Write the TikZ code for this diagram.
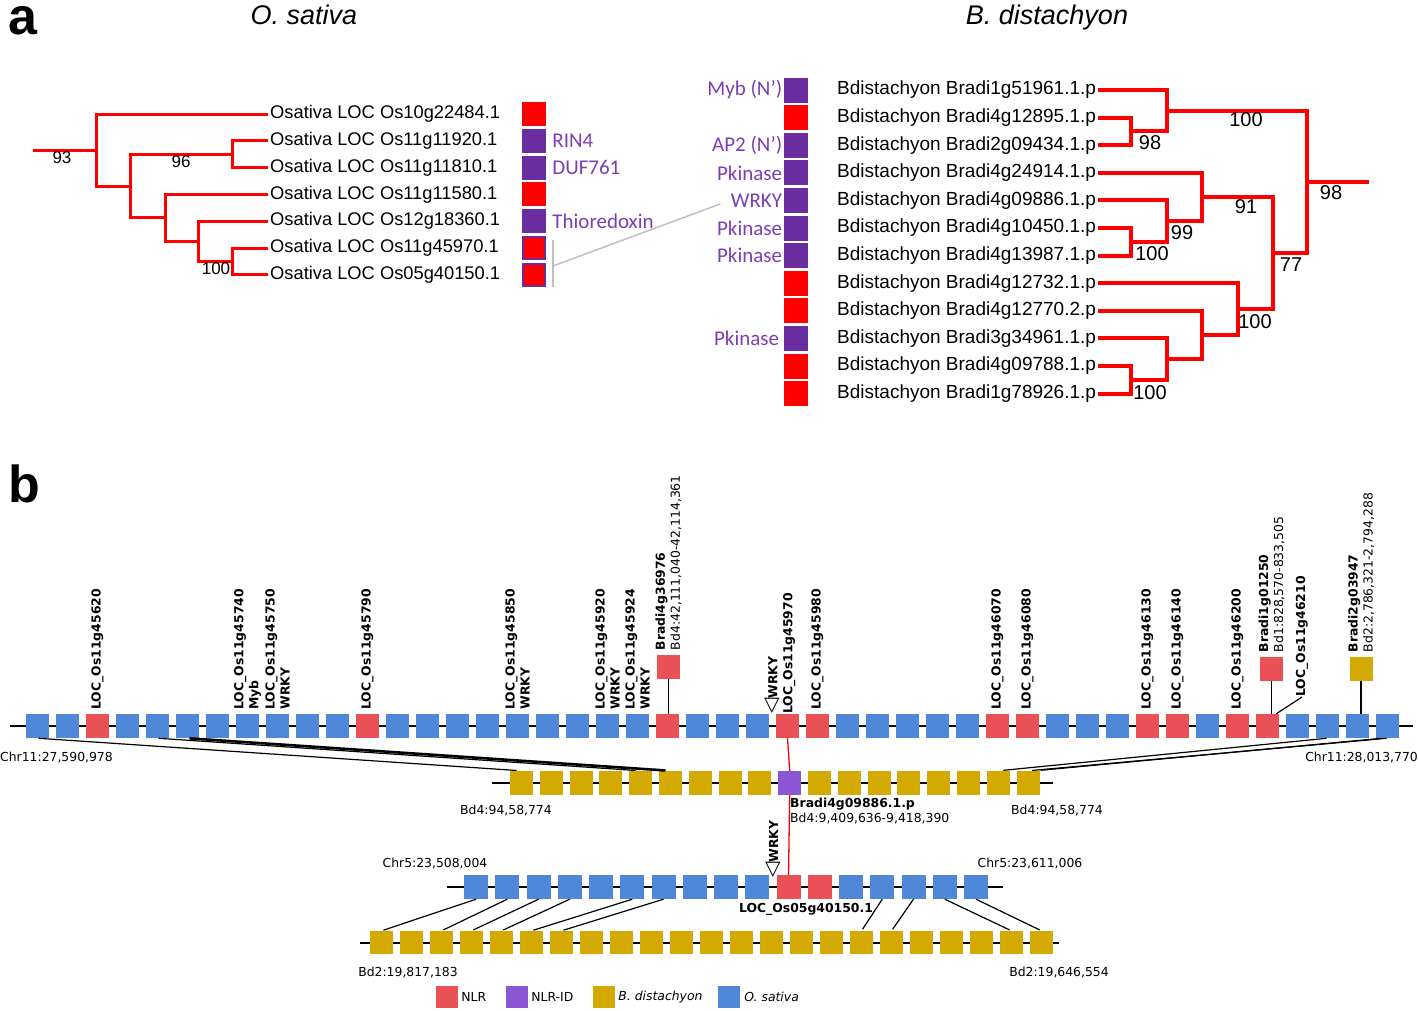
\documentclass[tikz,border=0pt]{standalone}
\usepackage{fontspec}
\setmainfont{Liberation Sans}
\newfontfamily\djv{DejaVu Sans}
\newfontfamily\carl{Carlito}
\usetikzlibrary{positioning}
\definecolor{treered}{HTML}{FF0000}
\definecolor{dompurple}{HTML}{6A2D9F}
\definecolor{domtext}{HTML}{7B3FB4}
\definecolor{osblue}{HTML}{4F88D8}
\definecolor{nlrred}{HTML}{EA5157}
\definecolor{bdyellow}{HTML}{D4AA00}
\definecolor{nlrpurple}{HTML}{8A56D3}
\tikzset{
  ltree/.style={treered, line width=3pt},
  rtree/.style={treered, line width=4pt},
  leaf/.style={anchor=west, inner sep=2pt, font=\fontsize{18.3}{20}\selectfont},
  rleaf/.style={anchor=west, inner sep=2pt, font=\fontsize{19}{20}\selectfont},
  boot/.style={inner sep=0pt, font=\fontsize{17}{17}\selectfont},
  rboot/.style={inner sep=0pt, font=\fontsize{20}{20}\selectfont},
  dombox/.style={minimum width=24pt, minimum height=24pt, inner sep=0pt},
  domlab/.style={text=domtext, inner sep=1pt, font=\carl\fontsize{21}{21}\selectfont},
  genebox/.style={minimum width=23pt, minimum height=24pt, inner sep=0pt},
  rlab/.style={rotate=90, anchor=west, inner sep=0pt, align=left, font=\djv\bfseries\fontsize{12.4}{15}\selectfont},
  rlabn/.style={rlab, font=\djv\fontsize{12.4}{15}\selectfont},
  plab/.style={inner sep=0pt, font=\djv\fontsize{12.4}{15}\selectfont},
  syn/.style={black, line width=1.2pt},
}
\newcommand{\wtri}{{\mdseries\fontsize{20}{15}\selectfont ◁}}
\begin{document}
\begin{tikzpicture}[x=1pt, y=-1pt]
\useasboundingbox (0,0) rectangle (1418,1010);

% panel a
\node[anchor=base west, inner sep=0pt, font=\fontsize{52}{52}\selectfont\bfseries] (pa) at (8,34) {a};
\node[anchor=base, inner sep=0pt, font=\fontsize{27}{27}\selectfont\itshape] (tos) at (304,24) {O. sativa};
\node[anchor=base, inner sep=0pt, font=\fontsize{27}{27}\selectfont\itshape] (tbd) at (1047,24) {B. distachyon};

\foreach \k/\g in {0/Os10g22484.1, 1/Os11g11920.1, 2/Os11g11810.1, 3/Os11g11580.1, 4/Os12g18360.1, 5/Os11g45970.1, 6/Os05g40150.1}
  \node[leaf] (os\k) at (268,{114+26.8*\k}) {Osativa LOC \g};

\coordinate (o0) at (33,150);
\coordinate (o1) at (96,150);
\coordinate (o2) at (130,186);
\coordinate (o3) at (232,154.2);
\coordinate (o4) at (165,217.9);
\coordinate (o5) at (198,241.3);
\coordinate (o6) at (232,261.4);
\draw[ltree] (o0) -- (o1);
\draw[ltree] (o1) |- (os0.west);
\draw[ltree] (o1) |- (o2);
\draw[ltree] (o2) |- (o3);
\draw[ltree] (o2) |- (o4);
\draw[ltree] (o3) |- (os1.west);
\draw[ltree] (o3) |- (os2.west);
\draw[ltree] (o4) |- (os3.west);
\draw[ltree] (o4) |- (o5);
\draw[ltree] (o5) |- (os4.west);
\draw[ltree] (o5) |- (o6);
\draw[ltree] (o6) |- (os5.west);
\draw[ltree] (o6) |- (os6.west);
\node[boot] (b93) at (62,158) {93};
\node[boot] (b96) at (181,162) {96};
\node[boot] (b100) at (216,269) {100};

\node[dombox, fill=treered] (ld0) at (534,114) {};
\node[dombox, fill=dompurple] (ld1) at (534,140.8) {};
\node[dombox, fill=dompurple] (ld2) at (534,167.6) {};
\node[dombox, fill=treered] (ld3) at (534,194.4) {};
\node[dombox, fill=dompurple] (ld4) at (534,221.2) {};
\node[dombox, fill=treered, draw=dompurple, line width=2pt, minimum width=22pt, minimum height=22pt] (ld5) at (534,248) {};
\node[dombox, fill=treered, draw=dompurple, line width=2pt, minimum width=22pt, minimum height=22pt] (ld6) at (534,274.8) {};
\node[domlab, anchor=west] (lt1) at ([xshift=5pt]ld1.east) {RIN4};
\node[domlab, anchor=west] (lt2) at ([xshift=5pt]ld2.east) {DUF761};
\node[domlab, anchor=west] (lt4) at ([xshift=5pt]ld4.east) {Thioredoxin};
\draw[gray!50, line width=1.5pt] (553,240) -- (553,287);
\coordinate (brk) at (553,266);

\foreach \k/\g in {0/Bradi1g51961.1.p, 1/Bradi4g12895.1.p, 2/Bradi2g09434.1.p, 3/Bradi4g24914.1.p, 4/Bradi4g09886.1.p, 5/Bradi4g10450.1.p, 6/Bradi4g13987.1.p, 7/Bradi4g12732.1.p, 8/Bradi4g12770.2.p, 9/Bradi3g34961.1.p, 10/Bradi4g09788.1.p, 11/Bradi1g78926.1.p}
  \node[rleaf] (bd\k) at (835,{90+27.6*\k}) {Bdistachyon \g};
\foreach \k/\c in {0/dompurple, 1/treered, 2/dompurple, 3/dompurple, 4/dompurple, 5/dompurple, 6/dompurple, 7/treered, 8/treered, 9/dompurple, 10/treered, 11/treered}
  \node[dombox, minimum height=25pt, fill=\c] (rb\k) at (795.5,{90+27.6*\k}) {};
\node[domlab, anchor=east] (rd0) at (rb0.west) {Myb (N’)};
\node[domlab, anchor=east] (rd2) at (rb2.west) {AP2 (N’)};
\node[domlab, anchor=east] (rd3) at (rb3.west) {Pkinase};
\node[domlab, anchor=east] (rd4) at (rb4.west) {WRKY};
\node[domlab, anchor=east] (rd5) at (rb5.west) {Pkinase};
\node[domlab, anchor=east] (rd6) at (rb6.west) {Pkinase};
\node[domlab, anchor=east] (rd9) at ([xshift=-3pt]rb9.west) {Pkinase};
\draw[gray!50, line width=1.5pt, shorten >=10pt] (brk) -- (rd4.west);

\coordinate (p1) at (1131,131.4);
\coordinate (p2) at (1167,110.7);
\coordinate (p3) at (1131,241.8);
\coordinate (p4) at (1167,221.1);
\coordinate (p5) at (1202,197);
\coordinate (p6) at (1131,379.8);
\coordinate (p7) at (1167,359.1);
\coordinate (p8) at (1202,335);
\coordinate (p9) at (1238,309.1);
\coordinate (p10) at (1273,253);
\coordinate (p11) at (1307,181.9);
\coordinate (p0) at (1369,181.9);
\draw[rtree] (p1) |- (bd1.east);
\draw[rtree] (p1) |- (bd2.east);
\draw[rtree] (p2) |- (bd0.east);
\draw[rtree] (p2) |- (p1);
\draw[rtree] (p3) |- (bd5.east);
\draw[rtree] (p3) |- (bd6.east);
\draw[rtree] (p4) |- (bd4.east);
\draw[rtree] (p4) |- (p3);
\draw[rtree] (p5) |- (bd3.east);
\draw[rtree] (p5) |- (p4);
\draw[rtree] (p6) |- (bd10.east);
\draw[rtree] (p6) |- (bd11.east);
\draw[rtree] (p7) |- (bd9.east);
\draw[rtree] (p7) |- (p6);
\draw[rtree] (p8) |- (bd8.east);
\draw[rtree] (p8) |- (p7);
\draw[rtree] (p9) |- (bd7.east);
\draw[rtree] (p9) |- (p8);
\draw[rtree] (p10) |- (p5);
\draw[rtree] (p10) |- (p9);
\draw[rtree] (p11) |- (p2);
\draw[rtree] (p11) |- (p10);
\draw[rtree] (p11) -- (p0);
\node[rboot] (c100a) at (1246,120) {100};
\node[rboot] (c98a) at (1150,143) {98};
\node[rboot] (c98b) at (1331,193) {98};
\node[rboot] (c91) at (1246,207) {91};
\node[rboot] (c99) at (1182,233) {99};
\node[rboot] (c100b) at (1152,254) {100};
\node[rboot] (c77) at (1291,265) {77};
\node[rboot] (c100c) at (1255,322) {100};
\node[rboot] (c100d) at (1150,393) {100};

% panel b
\node[anchor=base west, inner sep=0pt, font=\fontsize{52}{52}\selectfont\bfseries] (pb) at (8,502) {b};

\draw[line width=1.3pt] (10,726) -- (1413,726);
\draw[line width=1.3pt] (492,783) -- (1053,783);
\draw[line width=1.3pt] (447,887) -- (1003,887);
\draw[line width=1.3pt] (360,943) -- (1059,943);

\foreach \i in {0,...,45}{
  \gdef\boxcol{osblue}
  \foreach \r in {2,11,21,25,26,32,33,37,38,40,41}{\ifnum\i=\r\relax\gdef\boxcol{nlrred}\fi}
  \node[genebox, fill=\boxcol] (t\i) at ({37.5+30*\i},726) {};
}
\foreach \j in {0,...,17}{
  \ifnum\j=9 \gdef\boxcol{nlrpurple}\else\gdef\boxcol{bdyellow}\fi
  \node[genebox, fill=\boxcol] (m\j) at ({521.5+29.8*\j},783) {};
}
\foreach \k in {0,...,16}{
  \gdef\boxcol{osblue}
  \ifnum\k=10 \gdef\boxcol{nlrred}\fi
  \ifnum\k=11 \gdef\boxcol{nlrred}\fi
  \node[genebox, minimum width=24pt, fill=\boxcol] (c\k) at ({476+31.25*\k},887) {};
}
\foreach \q in {0,...,22}
  \node[genebox, minimum height=23pt, fill=bdyellow] (d\q) at ({381.5+30*\q},942.5) {};

\foreach \i/\txt in {2/{LOC\_Os11g45620}, 7/{LOC\_Os11g45740\\Myb}, 8/{LOC\_Os11g45750\\WRKY}, 11/{LOC\_Os11g45790}, 16/{LOC\_Os11g45850\\WRKY}, 19/{LOC\_Os11g45920\\WRKY}, 20/{LOC\_Os11g45924\\WRKY}, 26/{LOC\_Os11g45980}, 32/{LOC\_Os11g46070}, 33/{LOC\_Os11g46080}, 37/{LOC\_Os11g46130}, 38/{LOC\_Os11g46140}, 40/{LOC\_Os11g46200}}
  \node[rlab] (n\i) at ([yshift=4pt]t\i.north) {\txt};
\node[rlab] (n25) at (780,714) {\wtri WRKY\\LOC\_Os11g45970};

\node[genebox, fill=nlrred] (x21) at (668.5,666.5) {};
\draw[line width=1.2pt] (x21) -- (x21 |- t21.north);
\node[rlabn] (nx21) at ([yshift=4pt]x21.north) {\textbf{Bradi4g36976}\\Bd4:42,111,040-42,114,361};
\node[genebox, fill=nlrred] (x41) at (1271.5,668.5) {};
\draw[line width=1.2pt] (x41) -- (x41 |- t41.north);
\node[rlabn] (nx41) at ([yshift=4pt]x41.north) {\textbf{Bradi1g01250}\\Bd1:828,570-833,505};
\node[rlab] (n41) at (1302,697) {LOC\_Os11g46210};
\draw[line width=1.2pt] (n41.west) -- ([xshift=-3pt]t41.north east);
\node[genebox, fill=bdyellow] (x44) at (1361,668.5) {};
\draw[line width=1.2pt] (x44) -- (x44 |- t44.north);
\node[rlabn] (nx44) at ([yshift=4pt]x44.north) {\textbf{Bradi2g03947}\\Bd2:2,786,321-2,794,288};

\draw[syn, shorten <=1pt, shorten >=5pt] (t0.south) -- (m0.north);
\draw[syn, shorten <=1pt, shorten >=5pt] (t4.south) -- (m4.north);
\draw[syn, line width=2.6pt, shorten <=2pt, shorten >=5pt] (t5.south) -- (m5.north);
\draw[syn, shorten <=1pt, shorten >=5pt] (t43.south) -- (m16.north);
\draw[syn, shorten <=1pt, shorten >=4pt] (t45.south) -- (m17.north);
\draw[syn, shorten <=2pt, shorten >=6pt] ([xshift=-5pt]t45.south) -- ([xshift=7pt]m17.north);
\draw[treered, line width=1.3pt] (t25.south) -- (m9.north);
\draw[treered, line width=1.3pt] (m9.south) -- (c10.north);
\foreach \a/\b in {0/0, 1/2, 2/3, 3/4, 5/5, 6/6, 13/16, 14/17, 15/21, 16/22}
  \draw[syn, shorten >=2pt] (c\a.south) -- (d\b.north);

\node[plab, anchor=west] (chl) at (0,757) {Chr11:27,590,978};
\node[plab, anchor=east] (chr) at (1418,757) {Chr11:28,013,770};
\node[plab] (bdl) at (506,810) {Bd4:94,58,774};
\node[plab] (bdr) at (1057,810) {Bd4:94,58,774};
\node[plab, anchor=north west, align=left] (bdm) at (790,798) {\textbf{Bradi4g09886.1.p}\\Bd4:9,409,636-9,418,390};
\node[rlab] (n5w) at (773,878) {\wtri WRKY};
\node[plab] (c5l) at (435,863) {Chr5:23,508,004};
\node[plab] (c5r) at (1030,863) {Chr5:23,611,006};
\node[plab, font=\djv\bfseries\fontsize{12.4}{15}\selectfont] (c5m) at (806,909) {LOC\_Os05g40150.1};
\node[plab] (b2l) at (408,972) {Bd2:19,817,183};
\node[plab] (b2r) at (1059,972) {Bd2:19,646,554};

\node[genebox, minimum width=22pt, minimum height=22pt, fill=nlrred] (lg1) at (447,997) {};
\node[plab, right=3pt of lg1] (lt1) {NLR};
\node[genebox, minimum width=22pt, minimum height=22pt, fill=nlrpurple] (lg2) at (517,997) {};
\node[plab, right=3pt of lg2] (lt2) {NLR-ID};
\node[genebox, minimum width=22pt, minimum height=22pt, fill=bdyellow] (lg3) at (604,997) {};
\node[plab, right=3pt of lg3, font=\djv\itshape\fontsize{12.4}{15}\selectfont] (lt3) {B. distachyon};
\node[genebox, minimum width=22pt, minimum height=22pt, fill=osblue] (lg4) at (729,997) {};
\node[plab, right=4pt of lg4, font=\djv\itshape\fontsize{12.4}{15}\selectfont] (lt4) {O. sativa};
\end{tikzpicture}
\end{document}
